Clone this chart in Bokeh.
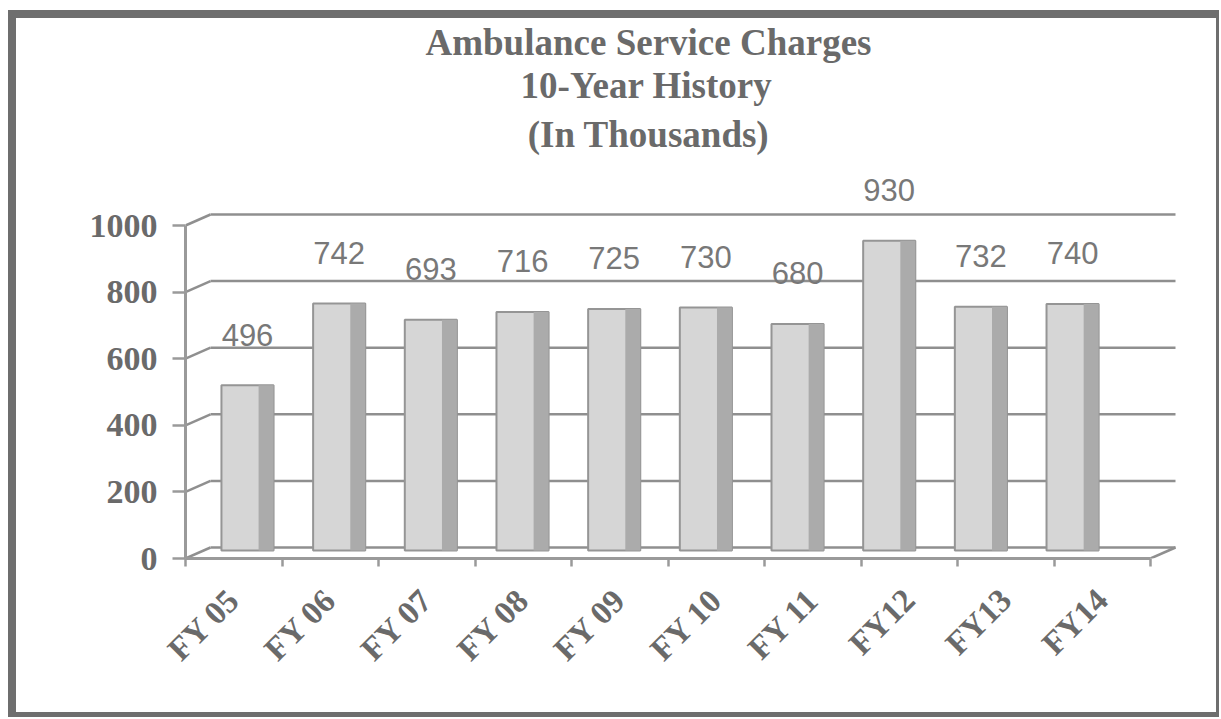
import math
from bokeh.plotting import figure
from bokeh.models import Range1d, FixedTicker, Title, ColumnDataSource
from bokeh.core.properties import value
from bokeh.embed import file_html
from bokeh.resources import INLINE

# ---- data ----
categories = ["FY 05", "FY 06", "FY 07", "FY 08", "FY 09", "FY 10", "FY 11", "FY12", "FY13", "FY14"]
charges = [496, 742, 693, 716, 725, 730, 680, 930, 732, 740]
y_ticks = [0, 200, 400, 600, 800, 1000]
title_lines = ["Ambulance Service Charges", "10-Year History", "(In Thousands)"]

# ---- style / geometry constants ----
PX_X = 96.5          # px per category on the front plane
PX_Y = 0.333         # px per value unit
DEPTH_DX = 25 / PX_X # back-wall horizontal offset (data units)
DEPTH_DY = 33        # back-wall vertical offset (value units)
BAR_BASE = 24        # bars stand at mid depth
BAR_SHRINK = 0.95    # perspective shrink of the bar row
BAR_SHIFT = 0.1425
BAR_W = 0.54
SIDE_W = 0.155
LABEL_GAP = 152      # value units between bar top and its label centre
GRID_C = "#8f8f8f"
AXIS_C = "#9a9a9a"
TEXT_C = "#6a6a6a"

W, H = 1211, 707
FRAME_L, FRAME_R, FRAME_T, FRAME_B = 185, 1195, 160, 558
ORIGIN_X, ORIGIN_Y = 16, 18

TITLE_SIZE = 37
TITLE_CENTER = 648
# Times/Liberation Serif Bold advance widths (em) for the title glyphs
_W = {"A": .722, "m": .833, "b": .556, "u": .556, "l": .278, "a": .5, "n": .556,
      "c": .444, "e": .444, " ": .25, "S": .556, "r": .444, "v": .5, "i": .278,
      "C": .722, "h": .556, "g": .5, "s": .389, "1": .5, "0": .5, "-": .333,
      "Y": .722, "H": .778, "t": .333, "o": .5, "y": .5, "(": .333, "I": .389,
      "T": .667, "d": .556, ")": .333}

n = len(categories)
x_end = -0.5 + (FRAME_R - FRAME_L) / PX_X
y_end = (FRAME_B - FRAME_T) / PX_Y

p = figure(width=W, height=H,
           x_range=Range1d(-0.5, x_end), y_range=Range1d(0, y_end),
           output_backend="svg", toolbar_location=None,
           min_border_left=FRAME_L - ORIGIN_X,
           min_border_right=ORIGIN_X + W - FRAME_R,
           min_border_top=FRAME_T - ORIGIN_Y,
           min_border_bottom=ORIGIN_Y + H - FRAME_B)
p.styles = {"border-style": "solid", "border-color": "#6e6e6e",
            "border-width": "8px 3px 5px 8px",
            "margin-left": "8px", "margin-top": "10px"}
p.outline_line_color = None
p.xgrid.visible = False
p.ygrid.visible = False
p.background_fill_color = "white"
p.border_fill_color = "white"

# ---- back wall gridlines and side wall diagonals ----
gx0 = [-0.5 + DEPTH_DX for _ in y_ticks]
gx1 = [n - 0.5 + DEPTH_DX for _ in y_ticks]
gy = [t + DEPTH_DY for t in y_ticks]
p.segment(x0=gx0, y0=gy, x1=gx1, y1=gy, line_color=GRID_C, line_width=2.5)
p.segment(x0=[-0.5 for _ in y_ticks], y0=y_ticks, x1=gx0, y1=gy,
          line_color=GRID_C, line_width=2.5)
p.segment(x0=[n - 0.5], y0=[0], x1=[n - 0.5 + DEPTH_DX], y1=[DEPTH_DY],
          line_color=GRID_C, line_width=2.5)

# ---- bars ----
xb = [BAR_SHIFT + BAR_SHRINK * i for i in range(n)]
src = ColumnDataSource(dict(
    left=[x - BAR_W / 2 for x in xb],
    right=[x + BAR_W / 2 for x in xb],
    side_left=[x + BAR_W / 2 - SIDE_W for x in xb],
    bottom=[BAR_BASE for _ in xb],
    top=[v + BAR_BASE for v in charges],
    lx=xb,
    ly=[v + BAR_BASE + LABEL_GAP for v in charges],
    txt=[str(v) for v in charges],
))
p.quad(left="left", right="right", bottom="bottom", top="top", source=src,
       fill_color="#d6d6d6", line_color="#959595", line_width=2)
p.quad(left="side_left", right="right", bottom="bottom", top="top", source=src,
       fill_color="#ababab", line_color=None)
p.text(x="lx", y="ly", text="txt", source=src,
       text_font=value("Liberation Sans"), text_font_size="31px",
       text_color="#787878", text_align="center", text_baseline="middle")

# ---- axes ----
xa = p.xaxis[0]
xa.ticker = FixedTicker(ticks=list(range(n)), minor_ticks=[i - 0.5 for i in range(n + 1)])
xa.major_label_overrides = {i: c for i, c in enumerate(categories)}
xa.bounds = (-0.5, n - 0.5)
xa.axis_line_color = AXIS_C
xa.axis_line_width = 3
xa.major_tick_out = 0
xa.major_tick_in = 0
xa.minor_tick_out = 8
xa.minor_tick_in = 0
xa.minor_tick_line_color = AXIS_C
xa.minor_tick_line_width = 2.5
xa.major_label_orientation = math.pi / 4
xa.major_label_standoff = 28
xa.major_label_text_font = "Liberation Serif"
xa.major_label_text_font_style = "bold"
xa.major_label_text_font_size = "33px"
xa.major_label_text_color = TEXT_C

ya = p.yaxis[0]
ya.ticker = FixedTicker(ticks=y_ticks)
ya.bounds = (0, 1000)
ya.axis_line_color = AXIS_C
ya.axis_line_width = 3
ya.major_tick_out = 13
ya.major_tick_in = 0
ya.major_tick_line_color = AXIS_C
ya.major_tick_line_width = 2.5
ya.minor_tick_out = 0
ya.minor_tick_in = 0
ya.major_label_standoff = 15
ya.major_label_text_font = "Liberation Serif"
ya.major_label_text_font_style = "bold"
ya.major_label_text_font_size = "34px"
ya.major_label_text_color = TEXT_C

# ---- title (first added sits closest to the plot) ----
standoffs = [0, 0, 12]
for line, so in reversed(list(zip(title_lines, standoffs))):
    tw = sum(_W.get(ch, .5) for ch in line) * TITLE_SIZE
    p.add_layout(Title(text=line, align="left", text_font="Liberation Serif",
                       text_font_style="bold", text_font_size=f"{TITLE_SIZE}px",
                       text_color=TEXT_C, standoff=so,
                       offset=TITLE_CENTER - tw / 2 - FRAME_L), "above")

open("out.html", "w").write(file_html(p, INLINE))
